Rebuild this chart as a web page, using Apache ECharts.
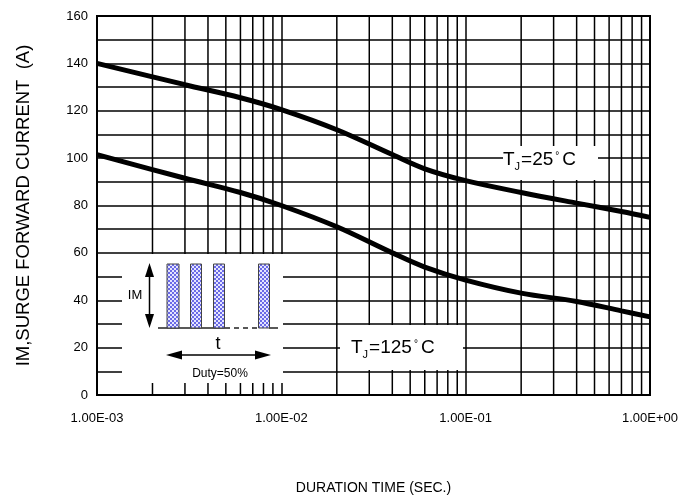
<!DOCTYPE html>
<html><head><meta charset="utf-8">
<script src="https://cdn.jsdelivr.net/npm/echarts@6/dist/echarts.min.js"></script>
<style>html,body{margin:0;padding:0;background:#fff}#c{width:697px;height:504px}</style>
</head><body><div id="c"></div>
<script>
var durations = [0.001, 0.003, 0.006, 0.01, 0.02, 0.04, 0.06, 0.1, 0.2, 0.4, 0.7, 1];
var current25 = [140, 131, 125.5, 120.5, 112, 101.5, 95.5, 90.5, 85.5, 81, 77.5, 75];
var current125 = [101.5, 91.5, 85.5, 80, 71, 60, 54, 48.5, 43, 39.5, 35.5, 33];
var xTickLabels = ['1.00E-03', '1.00E-02', '1.00E-01', '1.00E+00'];
var minorX = [0.002,0.003,0.004,0.005,0.006,0.007,0.008,0.009,
              0.02,0.03,0.04,0.05,0.06,0.07,0.08,0.09,
              0.2,0.3,0.4,0.5,0.6,0.7,0.8,0.9];
var yMin = 0, yMax = 160;

function pairs(xs, ys){ return xs.map(function(x,i){return [x, ys[i]];}); }
var gridData = [];
minorX.forEach(function(v){ gridData.push([v,yMin],[v,yMax],[v,'-']); });

var pc = document.createElement('canvas'); pc.width = 4; pc.height = 4;
var g = pc.getContext('2d');
g.fillStyle = '#e4e4ff'; g.fillRect(0,0,4,4);
g.fillStyle = '#6a6ae6'; g.fillRect(0,0,2,2); g.fillRect(2,2,2,2);
var pat = {image: pc, repeat: 'repeat'};

var F = 'Liberation Sans, Arial, sans-serif';
var chart = echarts.init(document.getElementById('c'));
var ink = '#222';
function rich(sz){
  return {
    a:{fontSize:sz, fontFamily:F, color:'#000', lineHeight:24, verticalAlign:'middle'},
    s:{fontSize:11, fontFamily:F, color:'#000', lineHeight:24, verticalAlign:'bottom', padding:[0,1,0,0]},
    d:{fontSize:10, fontFamily:F, color:'#000', lineHeight:24, verticalAlign:'top', padding:[3,3,0,2]}
  };
}
chart.setOption({
  animation:false,
  grid:{left:97, right:47, top:16, bottom:109, show:true, borderColor:'#000', borderWidth:2, backgroundColor:'transparent'},
  xAxis:{type:'log', logBase:10, min:0.001, max:1,
    name:'DURATION TIME (SEC.)', nameLocation:'middle', nameGap:86,
    nameTextStyle:{fontFamily:F, fontSize:14, color:'#000'},
    axisLine:{lineStyle:{color:'#000', width:2}}, axisTick:{show:false},
    axisLabel:{fontFamily:F, fontSize:13, color:'#000', margin:17,
      formatter:function(v){var i=Math.round(Math.log(v)/Math.LN10)+3; return xTickLabels[i]||'';}},
    splitLine:{show:true, lineStyle:{color:'#000', width:1.5}}},
  yAxis:{type:'value', min:yMin, max:yMax, interval:10,
    name:'IM,SURGE FORWARD CURRENT  (A)', nameLocation:'middle', nameGap:64,
    nameTextStyle:{fontFamily:F, fontSize:18.5, color:'#000'},
    axisLine:{show:true, lineStyle:{color:'#000', width:2}}, axisTick:{show:false},
    axisLabel:{fontFamily:F, fontSize:13, color:'#000', margin:9,
      formatter:function(v){return v%20===0 ? String(v) : '';}},
    splitLine:{show:true, lineStyle:{color:'#000', width:1.5}}},
  series:[
    {type:'line', data:gridData, z:1, silent:true, showSymbol:false, connectNulls:false,
     lineStyle:{color:'#000', width:1.5}},
    {type:'line', name:'25', data:pairs(durations,current25), smooth:0.35, showSymbol:false, z:3,
     lineStyle:{color:'#000', width:5}},
    {type:'line', name:'125', data:pairs(durations,current125), smooth:0.35, showSymbol:false, z:3,
     lineStyle:{color:'#000', width:5}}
  ],
  graphic:[
    {type:'rect', z:50, shape:{x:340, y:325, width:123, height:45}, style:{fill:'#fff'}},
    {type:'text', z:51, left:351, top:336, style:{text:'{a|T}{s|J}{a|=125}{d|°}{a|C}', rich:rich(19)}},
    {type:'rect', z:50, shape:{x:503, y:146, width:95, height:34}, style:{fill:'#fff'}},
    {type:'text', z:51, left:503, top:148, style:{text:'{a|T}{s|J}{a|=25}{d|°}{a|C}', rich:rich(19)}},
    // inset
    {type:'rect', z:50, shape:{x:122, y:254, width:161, height:129}, style:{fill:'#fff'}},
    {type:'rect', z:52, shape:{x:167, y:264, width:12, height:64}, style:{fill:pat, stroke:'#444', lineWidth:1}},
    {type:'rect', z:52, shape:{x:190.5, y:264, width:11, height:64}, style:{fill:pat, stroke:'#444', lineWidth:1}},
    {type:'rect', z:52, shape:{x:213.5, y:264, width:11, height:64}, style:{fill:pat, stroke:'#444', lineWidth:1}},
    {type:'rect', z:52, shape:{x:258.5, y:264, width:11, height:64}, style:{fill:pat, stroke:'#444', lineWidth:1}},
    {type:'polyline', z:51, shape:{points:[[158,328],[225,328]]}, style:{stroke:ink, lineWidth:1.5}},
    {type:'polyline', z:51, shape:{points:[[225,328],[258,328]]}, style:{stroke:ink, lineWidth:1.5, lineDash:[5,4]}},
    {type:'polyline', z:51, shape:{points:[[269,328],[278,328]]}, style:{stroke:ink, lineWidth:1.5}},
    {type:'polyline', z:51, shape:{points:[[149.5,270],[149.5,322]]}, style:{stroke:'#000', lineWidth:1.5}},
    {type:'polygon', z:51, shape:{points:[[149.5,263],[145,277],[154,277]]}, style:{fill:'#000'}},
    {type:'polygon', z:51, shape:{points:[[149.5,328],[145,314],[154,314]]}, style:{fill:'#000'}},
    {type:'text', z:51, x:135, y:295, style:{text:'IM', fontFamily:F, fontSize:13, fill:'#000', align:'center', verticalAlign:'middle'}},
    {type:'polyline', z:51, shape:{points:[[172,355],[265,355]]}, style:{stroke:'#000', lineWidth:1.5}},
    {type:'polygon', z:51, shape:{points:[[166,355],[182,350.5],[182,359.5]]}, style:{fill:'#000'}},
    {type:'polygon', z:51, shape:{points:[[271,355],[255,350.5],[255,359.5]]}, style:{fill:'#000'}},
    {type:'text', z:51, x:218, y:344, style:{text:'t', fontFamily:F, fontSize:18, fill:'#000', align:'center', verticalAlign:'middle'}},
    {type:'text', z:51, x:220, y:374, style:{text:'Duty=50%', fontFamily:F, fontSize:12, fill:'#000', align:'center', verticalAlign:'middle'}}
  ]
});
</script></body></html>
